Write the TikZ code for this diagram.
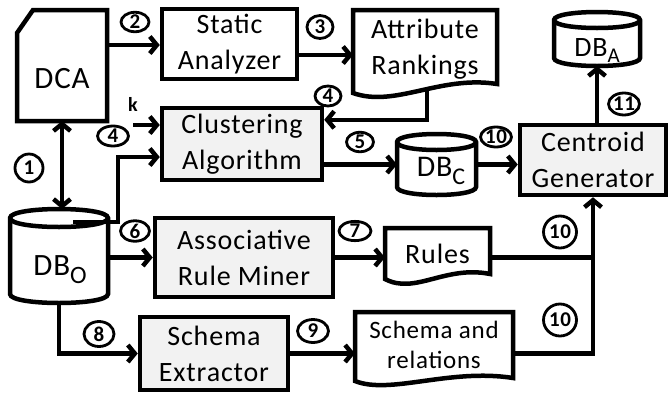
\documentclass[tikz,border=0pt]{standalone}
\usepackage{fontspec}
\setmainfont{Carlito}[LetterSpace=3]
\usetikzlibrary{arrows.meta,calc,shapes.geometric}
\newcommand{\dbcyl}[5]{%
  \filldraw[fill=white,line width=4.5pt] (#1,#2+#5) -- (#1,#4-#5)
    .. controls (#1,#4+0.333*#5) and (#3,#4+0.333*#5) .. (#3,#4-#5)
    -- (#3,#2+#5) .. controls (#3,#2-0.333*#5) and (#1,#2-0.333*#5) .. (#1,#2+#5) -- cycle;
  \draw[line width=4.5pt] (#1,#2+#5) .. controls (#1,#2+2.333*#5) and (#3,#2+2.333*#5) .. (#3,#2+#5);
}
\begin{document}
\begin{tikzpicture}[x=1pt,y=-1pt,
  >={Straight Barb[length=7pt,width=17pt]},
  lw/.style={line width=4.5pt},
  arr/.style={line width=4.5pt,->},
  box/.style={draw,line width=4.5pt,rectangle,inner sep=0pt,align=center,font=\fontsize{28}{36}\selectfont},
  gbox/.style={box,fill=black!5},
  txt/.style={inner sep=0pt,align=center,font=\fontsize{28}{36}\selectfont},
  hold/.style={inner sep=0pt,outer sep=0pt},
  num/.style={draw,ellipse,line width=2.8pt,inner sep=0pt,minimum width=28pt,minimum height=21pt,font=\fontsize{21}{21}\selectfont\bfseries},
]
\useasboundingbox (0,0) rectangle (670,392);

% DCA card
\draw[lw,fill=white] (17,33) -- (33,10) -- (107,10) -- (107,121) -- (17,121) -- cycle;
\node[hold,minimum width=90pt,minimum height=111pt] (dca) at (62,65.5) {};
\node[anchor=base,inner sep=0pt,font=\fontsize{31}{31}\selectfont] (dcat) at (62,88) {DCA};

% boxes
\node[box,minimum width=135pt,minimum height=70pt] (sa) at (229.5,44) {Static\\Analyzer};
\node[gbox,minimum width=160pt,minimum height=72pt] (clus) at (242,144) {Clustering\\Algorithm};
\node[gbox,minimum width=178pt,minimum height=79pt] (assoc) at (244,257.5) {Associative\\Rule Miner};
\node[gbox,minimum width=148pt,minimum height=73pt] (se) at (214,353.5) {Schema\\Extractor};
\node[gbox,minimum width=146pt,minimum height=70pt] (cent) at (593,160) {Centroid\\Generator};

% documents
\draw[lw,fill=white] (353,93) -- (353,10) -- (497,10) -- (497,84) .. controls (440,75) and (395,108) .. (353,93) -- cycle;
\node[txt,hold,minimum width=144pt,minimum height=80pt] (ar) at (425,49) {Attribute\\Rankings};
\draw[lw,fill=white] (385,279) -- (385,228) -- (490,228) -- (490,274) .. controls (445,265) and (415,295) .. (385,279) -- cycle;
\node[txt,hold,minimum width=105pt,minimum height=51pt] (rules) at (437.5,253.5) {Rules};
\draw[lw,fill=white] (355,381) -- (355,312) -- (513,312) -- (513,378) .. controls (450,368) and (390,395) .. (355,381) -- cycle;
\node[txt,hold,minimum width=158pt,minimum height=68pt,font=\fontsize{25}{30}\selectfont] (srel) at (434,345) {Schema and\\relations};

% databases
\dbcyl{10}{209}{108}{303}{9}
\node[hold,minimum width=98pt,minimum height=94pt] (dbo) at (59,256) {};
\node[anchor=base,inner sep=0pt,font=\fontsize{31}{31}\selectfont] (dbot) at (60,275) {DB\raisebox{-8pt}{\fontsize{25}{25}\selectfont O}};
\dbcyl{397}{134}{476}{195}{8}
\node[hold,minimum width=79pt,minimum height=61pt] (dbc) at (436.5,164.5) {};
\node[anchor=base,inner sep=0pt,font=\fontsize{30}{30}\selectfont] (dbct) at (441,176) {DB\raisebox{-8pt}{\fontsize{24}{24}\selectfont C}};
\dbcyl{554}{12}{640}{66}{8}
\node[hold,minimum width=86pt,minimum height=54pt] (dba) at (597,39) {};
\node[anchor=base,inner sep=0pt,font=\fontsize{28}{28}\selectfont] (dbat) at (597,56) {DB\raisebox{-6pt}{\fontsize{21}{21}\selectfont A}};

% connectors
\draw[lw,<->] (dca.south) -- (dca.south |- dbo.north);
\draw[arr] (dca.east |- 0,45) -- (sa.west |- 0,45);
\draw[arr] (sa.east |- 0,55) -- (353,55);
\coordinate (ar4) at (427,88);
\draw[arr] (ar4) |- ($(clus.north east)+(0,14)$);
\coordinate (kk) at (133,125);
\draw[arr] (kk) -- (clus.west |- kk);
\coordinate (d4) at (73,222);
\draw[arr] (d4) -- (118,222) |- ($(clus.west)+(0,13)$);
\draw[arr] (clus.east |- dbc.west) -- (dbc.west);
\draw[arr] (dbc.east) -- (dbc.east -| cent.west);
\draw[arr] (cent.north -| dba.south) -- (dba.south);
\draw[arr] (dbo.east |- assoc.west) -- (assoc.west);
\draw[arr] (assoc.east) -- (assoc.east -| rules.west);
\draw[lw] (rules.east |- assoc.east) -- (assoc.east -| cent.south);
\draw[arr] (dbo.south) |- (se.west);
\draw[arr] (se.east) -- (se.east -| srel.west);
\draw[arr] (srel.east |- se.east) -| (cent.south);

% labels
\node[inner sep=0pt,font=\fontsize{20}{20}\selectfont\bfseries] (klab) at (133,104) {k};
\node[num,minimum width=28pt,minimum height=28pt] (n1) at (29,168) {1};
\node[num,minimum height=19pt] (n2) at (135,22) {2};
\node[num,minimum width=26pt,minimum height=23pt] (n3) at (320,27) {3};
\node[num,minimum width=31pt,minimum height=20pt] (n4a) at (113,136) {4};
\node[num,minimum width=26pt,minimum height=20pt] (n4b) at (328,96) {4};
\node[num,minimum width=27pt,minimum height=17pt] (n5) at (360,142) {5};
\node[num,minimum width=29pt,minimum height=18pt] (n6) at (135,231) {6};
\node[num,minimum width=32pt,minimum height=18pt] (n7) at (355,231) {7};
\node[num,minimum width=30pt,minimum height=25pt] (n8) at (99,334) {8};
\node[num,minimum width=31pt,minimum height=23pt] (n9) at (313,331) {9};
\node[num,minimum width=28pt,minimum height=20pt] (n10a) at (496,137) {10};
\node[num,minimum width=33pt,minimum height=32pt] (n10b) at (560,232) {10};
\node[num,minimum width=33pt,minimum height=32pt] (n10c) at (560,320) {10};
\node[num,minimum width=31pt,minimum height=22pt] (n11) at (624,104) {11};
\end{tikzpicture}
\end{document}
